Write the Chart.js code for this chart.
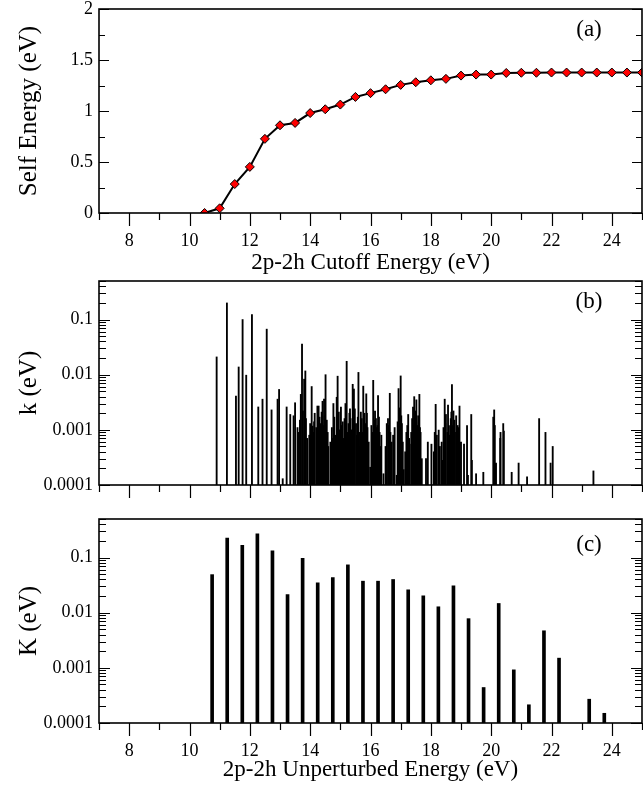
<!DOCTYPE html>
<html>
<head>
<meta charset="utf-8">
<script src="https://cdn.jsdelivr.net/npm/chart.js@4.4.1/dist/chart.umd.min.js"></script>
<style>
  html, body { margin: 0; padding: 0; background: #fff; }
  #wrap { position: relative; width: 643px; height: 787px; }
  canvas { position: absolute; left: 0; }
</style>
</head>
<body>
<div id="wrap">
  <canvas id="chartA" width="643" height="280" style="top:0"></canvas>
  <canvas id="chartB" width="643" height="220" style="top:280px"></canvas>
  <canvas id="chartC" width="643" height="287" style="top:500px"></canvas>
</div>
<script>
// (a) self energy vs cutoff
const cutoffE = [10.5, 11, 11.5, 12, 12.5, 13, 13.5, 14, 14.5, 15, 15.5, 16, 16.5, 17, 17.5, 18,
  18.5, 19, 19.5, 20, 20.5, 21, 21.5, 22, 22.5, 23, 23.5, 24, 24.5, 25];
const selfEnergy = [0, 0.046, 0.284, 0.452, 0.727, 0.86, 0.883, 0.98, 1.017, 1.063, 1.138, 1.175,
  1.213, 1.256, 1.282, 1.301, 1.315, 1.347, 1.357, 1.357, 1.373, 1.375, 1.375, 1.377, 1.377,
  1.377, 1.377, 1.377, 1.377, 1.377];

// (b) individual couplings k
const stickE = [10.90, 11.24, 11.54, 11.63, 11.76, 11.88, 12.07, 12.28, 12.42, 12.56, 12.72, 12.92,
  12.97, 13.09, 13.22, 13.34, 13.45, 13.50, 13.62, 13.66, 13.69, 13.73, 13.76, 13.80, 13.84, 13.90,
  13.97, 14.00, 14.05, 14.08, 14.10, 14.15, 14.20, 14.24, 14.28, 14.31, 14.35, 14.38, 14.41, 14.44,
  14.46, 14.51, 14.55, 14.60, 14.67, 14.72, 14.77, 14.80, 14.85, 14.88, 14.91, 14.95, 15.02, 15.05,
  15.10, 15.14, 15.17, 15.21, 15.25, 15.27, 15.30, 15.32, 15.36, 15.41, 15.45, 15.48, 15.52, 15.55,
  15.60, 15.65, 15.68, 15.71, 15.76, 15.80, 15.86, 15.90, 15.94, 15.99, 16.03, 16.09, 16.12, 16.15,
  16.20, 16.25, 16.30, 16.36, 16.43, 16.50, 16.54, 16.58, 16.64, 16.66, 16.70, 16.80, 16.87, 16.93,
  16.97, 17.00, 17.04, 17.10, 17.15, 17.19, 17.25, 17.30, 17.35, 17.41, 17.45, 17.48, 17.52, 17.55,
  17.58, 17.62, 17.66, 17.70, 17.84, 17.90, 18.02, 18.10, 18.16, 18.20, 18.26, 18.30, 18.38, 18.42,
  18.46, 18.50, 18.57, 18.60, 18.66, 18.70, 18.75, 18.80, 18.84, 18.89, 18.95, 19.00, 19.10, 19.20,
  19.23, 19.34, 19.36, 19.50, 19.74, 20.07, 20.10, 20.12, 20.14, 20.16, 20.30, 20.31, 20.40, 20.42,
  20.68, 20.91, 21.19, 21.59, 21.80, 21.97, 22.04, 23.39];
const stickK = [0.021, 0.20, 0.0041, 0.0138, 0.10, 0.0098, 0.123, 0.0026, 0.0036, 0.067, 0.0023, 0.0036,
  0.0054, 0.00013, 0.0026, 0.0019, 0.0018, 0.0031, 0.0009, 0.0015, 0.0044, 0.036, 0.0022, 0.0083, 0.0117, 0.0007,
  0.0008, 0.0013, 0.0061, 0.00117, 0.0009, 0.002, 0.0011, 0.0027, 0.0027, 0.0017, 0.0008, 0.0021, 0.0033, 0.0012,
  0.0036, 0.010, 0.0015, 0.0005, 0.0006, 0.0011, 0.003, 0.0017, 0.0008, 0.0039, 0.0094, 0.0021, 0.0026, 0.0012,
  0.0007, 0.0016, 0.003, 0.0175, 0.0009, 0.0013, 0.002, 0.0024, 0.001, 0.0067, 0.0055, 0.0024, 0.0013, 0.0008,
  0.011, 0.0009, 0.0021, 0.0016, 0.0062, 0.002, 0.0045, 0.0011, 0.0006, 0.00021, 0.0012, 0.0079, 0.0015, 0.0022,
  0.0011, 0.0042, 0.0009, 0.0008, 0.00016, 0.0005, 0.0013, 0.0016, 0.0046, 0.0009, 0.0006, 0.0011, 0.00015, 0.0056,
  0.0025, 0.0095, 0.0013, 0.00019, 0.0004, 0.0009, 0.0019, 0.00055, 0.0009, 0.0026, 0.004, 0.0022, 0.0035, 0.0012,
  0.0018, 0.0044, 0.0009, 0.0003, 0.0003, 0.0006, 0.00055, 0.0004, 0.0029, 0.0008, 0.00099, 0.0005, 0.00028, 0.0011,
  0.0036, 0.0019, 0.0028, 0.0012, 0.0016, 0.0066, 0.0022, 0.0009, 0.0018, 0.0012, 0.0027, 0.0006, 0.00055, 0.0012,
  0.00015, 0.0019, 0.00028, 0.00016, 0.00017, 0.0017, 0.0023, 0.0012, 0.00024, 0.00025, 0.0007, 0.0009, 0.0013, 0.00095,
  0.00017, 0.00025, 0.00014, 0.0016, 0.0009, 0.00025, 0.0005, 0.00018];
// weaker lines filling the dense band 13.5-19 eV
const weakE = [13.58, 13.86, 14.02, 14.13, 14.26, 14.33, 14.48, 14.58, 14.75, 14.98, 15.08, 15.19, 15.34,
  15.43, 15.58, 15.63, 15.73, 15.83, 15.88, 16.06, 16.18, 16.23, 16.28, 16.33, 16.61, 16.75, 16.90,
  17.02, 17.07, 17.22, 17.28, 17.38, 17.43, 17.50, 17.60, 17.64, 18.13, 18.36, 18.48, 18.55, 18.63,
  18.68, 18.72, 18.78, 18.86, 18.92];
const weakK = [0.0011, 0.0016, 0.0005, 0.0014, 0.0009, 0.0013, 0.0018, 0.0009, 0.0007, 0.001, 0.0014, 0.0008,
  0.0016, 0.0012, 0.0017, 0.0005, 0.0009, 0.0013, 0.002, 0.0009, 0.0016, 0.0012, 0.0017, 0.0005, 0.0012,
  0.0008, 0.0014, 0.0018, 0.0006, 0.0012, 0.0007, 0.0016, 0.0012, 0.0019, 0.0014, 0.0011, 0.0009, 0.0006,
  0.0013, 0.0009, 0.0008, 0.0021, 0.0012, 0.0015, 0.0009, 0.0011];

// (c) binned couplings K
const binE = [10.75, 11.25, 11.75, 12.25, 12.75, 13.25, 13.75, 14.25, 14.75, 15.25, 15.75, 16.25, 16.75,
  17.25, 17.75, 18.25, 18.75, 19.25, 19.75, 20.25, 20.75, 21.25, 21.75, 22.25, 23.25, 23.75];
const binK = [0.049, 0.226, 0.167, 0.268, 0.132, 0.0214, 0.097, 0.0348, 0.0435, 0.0737, 0.0373, 0.0373,
  0.040, 0.026, 0.0203, 0.0128, 0.0307, 0.0078, 0.00044, 0.0147, 0.00092, 0.000214, 0.0047, 0.0015,
  0.00027, 0.00015];

const xLabels = [8, 10, 12, 14, 16, 18, 20, 22, 24];
const yLabelsA = [0, 0.5, 1, 1.5, 2];
const yLabelsLog = [0.0001, 0.001, 0.01, 0.1];

const SERIF = "'Liberation Serif', 'DejaVu Serif', serif";
const tickFont = { family: SERIF, size: 18 };
const ink = '#000';

// frame, inward y ticks, outward x ticks, panel letter
const frameTicks = {
  id: 'frameTicks',
  afterDraw(chart, args, opts) {
    const { ctx, chartArea: a, scales: { x, y } } = chart;
    ctx.save();
    ctx.strokeStyle = ink;
    ctx.lineWidth = 1.2;
    ctx.beginPath();
    for (let v = 7; v <= 25; v++) {
      const px = Math.round(x.getPixelForValue(v)) + 0.5;
      const len = v % 2 === 0 ? 13 : 7;
      ctx.moveTo(px, a.bottom);
      ctx.lineTo(px, a.bottom + len);
    }
    opts.yTicks.forEach(([v, len]) => {
      const py = Math.round(y.getPixelForValue(v)) + 0.5;
      ctx.moveTo(a.left, py); ctx.lineTo(a.left + len, py);
      ctx.moveTo(a.right, py); ctx.lineTo(a.right - len, py);
    });
    ctx.stroke();
    ctx.lineWidth = 1.6;
    ctx.strokeRect(a.left, a.top, a.right - a.left, a.bottom - a.top);
    ctx.fillStyle = ink;
    ctx.font = '23px ' + SERIF;
    ctx.textAlign = 'center';
    ctx.textBaseline = 'middle';
    ctx.fillText(opts.tag, 589, a.top + opts.tagDy);
    ctx.restore();
  }
};

const linTicks = [];
for (let i = 0; i <= 8; i++) linTicks.push([i * 0.25, i % 2 === 0 ? 10 : 6]);
const logTicks = [];
for (let d = -4; d <= -1; d++) {
  for (let m = 1; m <= 9; m++) {
    const v = m * Math.pow(10, d);
    if (v <= 0.5) logTicks.push([v, m === 1 ? 11 : 7]);
  }
}

// keep the label overhang from moving the plot frame
function noPad(s) {
  s.paddingTop = 0; s.paddingBottom = 0; s.paddingLeft = 0; s.paddingRight = 0;
}

function xScale(height, showLabels, title) {
  return {
    type: 'linear', min: 7, max: 25, offset: false,
    grid: { display: false, drawTicks: false, offset: false },
    border: { display: false },
    afterBuildTicks: s => { s.ticks = xLabels.map(v => ({ value: v })); },
    afterFit: s => { s.height = height; noPad(s); },
    ticks: { display: showLabels, font: tickFont, color: ink, padding: 17, maxRotation: 0 },
    title: title ? { display: true, text: title, font: { family: SERIF, size: 23 }, color: ink,
      padding: { top: 0, bottom: 3 } } : { display: false }
  };
}

function yScale(cfg, title) {
  return Object.assign({
    grid: { display: false, drawTicks: false },
    border: { display: false },
    afterFit: s => { s.width = 99; noPad(s); },
    title: { display: true, text: title, font: { family: SERIF, size: 25 }, color: ink,
      padding: { top: 14, bottom: 0 } }
  }, cfg);
}

const common = {
  responsive: false,
  animation: false,
  devicePixelRatio: 1,
  plugins: { legend: { display: false }, tooltip: { enabled: false } }
};

new Chart(document.getElementById('chartA'), {
  type: 'line',
  data: {
    datasets: [{
      data: cutoffE.map((e, i) => ({ x: e, y: selfEnergy[i] })),
      borderColor: ink, borderWidth: 2, tension: 0,
      pointStyle: 'rectRot', pointRadius: 4.5,
      pointBackgroundColor: '#ff0000', pointBorderColor: ink, pointBorderWidth: 1
    }]
  },
  options: Object.assign({}, common, {
    layout: { autoPadding: false, padding: { top: 9, right: 1, left: 0, bottom: 0 } },
    scales: {
      x: xScale(67, true, '2p-2h Cutoff Energy (eV)'),
      y: yScale({
        type: 'linear', min: 0, max: 2,
        afterBuildTicks: s => { s.ticks = yLabelsA.map(v => ({ value: v })); },
        ticks: { font: tickFont, color: ink, padding: 6, callback: v => String(v) }
      }, 'Self Energy (eV)')
    },
    plugins: Object.assign({}, common.plugins, { frameTicks: { yTicks: linTicks, tag: '(a)', tagDy: 21 } })
  }),
  plugins: [frameTicks]
});

const logY = title => yScale({
  type: 'logarithmic', min: 0.0001, max: 0.5,
  afterBuildTicks: s => { s.ticks = yLabelsLog.map(v => ({ value: v })); },
  ticks: { font: tickFont, color: ink, padding: 6, callback: v => String(v) }
}, title);

const sticks = stickE.map((e, i) => ({ x: e, y: stickK[i] }))
  .concat(weakE.map((e, i) => ({ x: e, y: weakK[i] })));

new Chart(document.getElementById('chartB'), {
  type: 'bar',
  data: {
    datasets: [{
      data: sticks,
      backgroundColor: ink, barThickness: 1.2, borderWidth: 0
    }]
  },
  options: Object.assign({}, common, {
    layout: { autoPadding: false, padding: { top: 1, right: 1, left: 0, bottom: 0 } },
    scales: { x: xScale(15, false, null), y: logY('k (eV)') },
    plugins: Object.assign({}, common.plugins, { frameTicks: { yTicks: logTicks, tag: '(b)', tagDy: 21 } })
  }),
  plugins: [frameTicks]
});

new Chart(document.getElementById('chartC'), {
  type: 'bar',
  data: {
    datasets: [{
      data: binE.map((e, i) => ({ x: e, y: binK[i] })),
      backgroundColor: ink, barThickness: 3, borderWidth: 0
    }]
  },
  options: Object.assign({}, common, {
    layout: { autoPadding: false, padding: { top: 19, right: 1, left: 0, bottom: 0 } },
    scales: { x: xScale(64, true, '2p-2h Unperturbed Energy (eV)'), y: logY('K (eV)') },
    plugins: Object.assign({}, common.plugins, { frameTicks: { yTicks: logTicks, tag: '(c)', tagDy: 26 } })
  }),
  plugins: [frameTicks]
});
</script>
</body>
</html>
